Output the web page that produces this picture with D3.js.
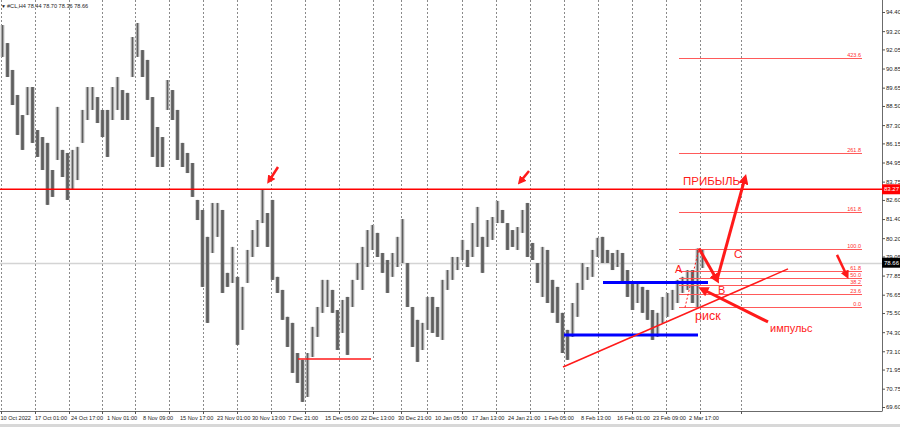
<!DOCTYPE html>
<html><head><meta charset="utf-8">
<script src="https://cdn.jsdelivr.net/npm/d3@7"></script>
<style>
html,body{margin:0;padding:0;background:#fff;}
svg{display:block;font-family:"Liberation Sans",Arial,sans-serif;}
</style></head>
<body><svg id="c" width="900" height="427"></svg>
<script>
// ---- data (H4 crude oil, grouped columns) ----
const highs = [93.58,92.45,90.76,89.19,87.93,89.69,89.69,86.99,86.55,86.18,84.48,88.44,85.74,85.55,85.74,85.93,88.25,89.69,89.69,89.06,88.25,88.25,89.69,90.32,89.50,89.32,92.83,93.71,92.01,91.39,89.06,87.18,86.55,90.13,89.50,88.25,86.18,85.55,84.92,82.60,81.97,80.28,82.41,82.41,81.97,78.02,79.65,77.77,77.14,79.46,80.71,81.34,83.23,81.78,82.60,77.77,76.95,75.26,74.88,72.99,72.56,72.99,74.63,75.88,77.58,77.58,76.95,75.69,76.32,76.51,77.58,78.64,79.65,80.71,81.03,80.53,79.27,78.83,79.27,80.28,81.40,78.64,75.88,75.07,74.88,76.51,76.51,75.88,77.58,78.20,79.02,79.02,80.09,79.46,81.15,82.16,80.28,81.34,81.53,82.54,81.97,81.15,80.71,80.90,81.97,82.41,79.90,78.64,79.65,79.46,77.58,77.14,75.51,74.44,76.13,77.39,78.64,78.39,79.46,80.22,80.28,79.46,79.27,79.46,79.27,78.20,77.39,77.39,77.14,76.95,75.69,75.51,76.51,76.76,76.95,77.58,77.77,78.20,78.20,79.55,79.46];
const lows  = [91.58,90.32,88.56,86.68,85.74,87.93,86.18,85.30,84.48,82.29,82.79,85.11,84.04,82.60,83.23,83.85,86.18,87.62,88.25,87.43,86.55,85.30,87.62,88.25,87.62,87.62,90.32,91.58,90.32,88.88,85.30,84.67,84.67,88.25,87.62,85.11,84.67,84.29,82.79,81.34,77.14,74.88,79.27,80.28,76.76,77.14,77.39,73.50,74.44,77.39,79.02,79.65,81.15,79.65,77.58,76.76,75.07,73.37,71.74,71.11,69.92,70.23,72.74,74.00,75.51,75.88,75.51,73.18,74.25,72.87,75.88,77.58,76.95,78.39,79.46,79.02,78.02,76.76,77.77,78.39,78.64,75.88,73.37,72.43,73.18,74.44,74.25,74.00,73.81,76.95,77.58,78.20,78.83,78.39,79.02,79.65,78.02,79.65,80.09,81.15,81.15,79.46,79.65,79.46,80.53,79.02,78.83,77.39,76.51,76.13,75.51,74.88,72.99,72.56,74.00,75.26,76.95,77.58,77.77,79.02,78.64,78.64,78.20,78.39,77.39,76.51,75.69,76.13,75.51,75.07,73.81,74.00,74.88,75.26,75.69,76.13,76.76,76.95,76.13,75.85,78.33];
const yTicks = [94.40,93.20,92.05,90.85,89.65,88.50,87.30,86.15,84.95,83.75,82.60,81.40,80.20,79.05,77.85,76.65,75.50,74.30,73.10,71.95,70.75,69.60];
const xLabels = ["10 Oct 2022","17 Oct 01:00","24 Oct 17:00","1 Nov 01:00","8 Nov 09:00","15 Nov 17:00","23 Nov 01:00","30 Nov 13:00","7 Dec 21:00","15 Dec 05:00","22 Dec 13:00","30 Dec 21:00","10 Jan 05:00","17 Jan 13:00","24 Jan 21:00","1 Feb 05:00","8 Feb 13:00","16 Feb 01:00","23 Feb 09:00","2 Mar 17:00"];
const xLabelAt = [-0.4,6.5,13.7,20.9,28.1,35.5,42.9,49.9,57.1,64.5,71.7,79.1,86.5,93.9,101.1,108.3,115.7,122.9,130.1,137.3];
const gridAt = [-0.36,6.5,13.3,19.9,26.5,33.3,40.1,46.9,53.7,60.5,67.3,74.1,79.7,84.9,91.9,98.7,105.5,112.3,119.1,125.9,132.7,139.5,147.7];
const header = "#CL,H4  78.44 78.70 78.36 78.66";
const lastPrice = 78.66;
const resistance = 83.27;
const fibLevels = [0,23.6,38.2,50,61.8,100,161.8,261.8,423.6];
const fibFrom = 75.85, fibTo = 79.55, fibStart = 135.3, fibEnd = 171.9;
const blueLines = [{x1:120.1,x2:141.1,p:77.41},{x1:112.3,x2:139.1,p:74.12}];
const redSegs = [{x1:59.1,p1:72.62,x2:73.7,p2:72.62,w:1.5},{x1:112.1,p1:72.11,x2:157.1,p2:78.27,w:1.5}];
const arrows = [
  {x1:139.3,p1:79.55,x2:142.9,p2:77.58,w:3},
  {x1:142.9,p1:77.58,x2:148.5,p2:83.98,w:3},
  {x1:153.1,p1:74.94,x2:139.9,p2:77.01,w:3},
  {x1:55.1,p1:84.67,x2:53.3,p2:83.79,w:2.5},
  {x1:105.3,p1:84.42,x2:103.5,p2:83.73,w:2.5},
  {x1:166.9,p1:79.15,x2:168.9,p2:77.83,w:2.5}
];
const notes = [
  {t:"ПРИБЫЛЬ",x:136.1,p:83.54,s:11.5},
  {t:"A",x:134.5,p:78.02,s:11},
  {t:"B",x:143.1,p:76.70,s:11},
  {t:"C",x:146.3,p:78.96,s:11},
  {t:"риск",x:138.5,p:75.07,s:12.5},
  {t:"импульс",x:153.5,p:74.31,s:11}
];

// ---- layout ----
const svg = d3.select("#c");
const R = 882, B = 411;
const x = d3.scaleLinear().domain([-0.5, 140.5]).range([0, 705]);
const y = d3.scaleLinear().domain([69.60, 94.40]).range([407, 12]);
const red = "#ff1a1a";

// grid
svg.append("g").selectAll("line").data(gridAt).join("line")
  .attr("x1", d => Math.round(x(d)) + 0.5).attr("x2", d => Math.round(x(d)) + 0.5)
  .attr("y1", 0).attr("y2", B)
  .attr("stroke", "#8a8a8a").attr("stroke-width", 1).attr("stroke-dasharray", "2,2");

// current price line
svg.append("line").attr("x1", 0).attr("x2", R).attr("y1", Math.round(y(lastPrice)) + 0.5).attr("y2", Math.round(y(lastPrice)) + 0.5)
  .attr("stroke", "#d4d4d4").attr("stroke-width", 1.5);

// candles
const bw = x(1) - x(0);
svg.append("g").selectAll("rect").data(highs).join("rect")
  .attr("x", (d, i) => x(i) - bw * 0.36)
  .attr("width", bw * 0.72)
  .attr("y", d => y(d))
  .attr("height", (d, i) => Math.max(1, y(lows[i]) - y(d)))
  .attr("fill", (d, i) => {
    const m = (d + lows[i]) / 2, pm = i ? (highs[i-1] + lows[i-1]) / 2 : m;
    return m >= pm ? "#a6a6a6" : "#6c6c6c";
  });
svg.append("g").selectAll("line").data(highs).join("line")
  .attr("x1", (d, i) => x(i)).attr("x2", (d, i) => x(i))
  .attr("y1", d => y(d)).attr("y2", (d, i) => y(lows[i]))
  .attr("stroke", "#5e5e5e").attr("stroke-width", 1);

// resistance line
svg.append("line").attr("x1", 0).attr("x2", R).attr("y1", y(resistance)).attr("y2", y(resistance))
  .attr("stroke", "#ff0000").attr("stroke-width", 1.5);

// fibo
const fp = l => fibFrom + (fibTo - fibFrom) * l / 100;
const fg = svg.append("g");
fg.selectAll("line").data(fibLevels).join("line")
  .attr("x1", x(fibStart)).attr("x2", x(fibEnd))
  .attr("y1", d => Math.round(y(fp(d))) + 0.5).attr("y2", d => Math.round(y(fp(d))) + 0.5)
  .attr("stroke", "#ff5a5a").attr("stroke-width", 1);
fg.selectAll("text").data(fibLevels).join("text")
  .attr("x", x(fibEnd) - 1).attr("y", d => Math.round(y(fp(d))) - 1)
  .attr("text-anchor", "end").attr("font-size", 5.5).attr("fill", "#ff3030")
  .text(d => d.toFixed(1));
svg.append("line").attr("x1", x(136.5)).attr("y1", y(fibFrom)).attr("x2", x(139.3)).attr("y2", y(fibTo))
  .attr("stroke", red).attr("stroke-width", 1).attr("stroke-dasharray", "2,2");

// blue lines
svg.append("g").selectAll("line").data(blueLines).join("line")
  .attr("x1", d => x(d.x1)).attr("x2", d => x(d.x2)).attr("y1", d => y(d.p)).attr("y2", d => y(d.p))
  .attr("stroke", "#0000ff").attr("stroke-width", 3);

// red segments
svg.append("g").selectAll("line").data(redSegs).join("line")
  .attr("x1", d => x(d.x1)).attr("x2", d => x(d.x2)).attr("y1", d => y(d.p1)).attr("y2", d => y(d.p2))
  .attr("stroke", red).attr("stroke-width", d => d.w);

// arrows
const defs = svg.append("defs");
defs.append("marker").attr("id", "ah").attr("viewBox", "0 0 10 10").attr("refX", 6).attr("refY", 5)
  .attr("markerWidth", 3.4).attr("markerHeight", 3.4).attr("orient", "auto")
  .append("path").attr("d", "M0,0 L10,5 L0,10 z").attr("fill", red);
svg.append("g").selectAll("line").data(arrows).join("line")
  .attr("x1", d => x(d.x1)).attr("x2", d => x(d.x2)).attr("y1", d => y(d.p1)).attr("y2", d => y(d.p2))
  .attr("stroke", red).attr("stroke-width", d => d.w).attr("marker-end", "url(#ah)");

// notes
svg.append("g").selectAll("text").data(notes).join("text")
  .attr("x", d => x(d.x)).attr("y", d => y(d.p)).attr("font-size", d => d.s).attr("fill", red)
  .text(d => d.t);

// right axis
svg.append("rect").attr("x", R).attr("y", 0).attr("width", 900 - R).attr("height", B).attr("fill", "#fff");
svg.append("line").attr("x1", R + 0.5).attr("x2", R + 0.5).attr("y1", 0).attr("y2", B).attr("stroke", "#6b6b6b");
const ya = svg.append("g").attr("transform", `translate(${R},0)`)
  .call(d3.axisRight(y).tickValues(yTicks).tickFormat(d3.format(".2f")).tickSize(3).tickPadding(1));
ya.select(".domain").remove();
ya.selectAll("line").attr("stroke", "#555");
ya.selectAll("text").attr("font-size", 6).attr("fill", "#222").attr("font-family", "Liberation Sans, Arial");

// price tags
function tag(p, bg) {
  const g = svg.append("g");
  g.append("rect").attr("x", R).attr("y", y(p) - 5).attr("width", 900 - R).attr("height", 10).attr("fill", bg);
  g.append("text").attr("x", R + 2).attr("y", y(p) + 2.2).attr("font-size", 6).attr("fill", "#fff").text(p.toFixed(2));
}
tag(resistance, "#ff0000");
tag(lastPrice, "#000");

// bottom axis
svg.append("line").attr("x1", 0).attr("x2", R + 0.5).attr("y1", B + 0.5).attr("y2", B + 0.5).attr("stroke", "#6b6b6b");
svg.append("g").selectAll("line").data(gridAt).join("line")
  .attr("x1", d => Math.round(x(d)) + 0.5).attr("x2", d => Math.round(x(d)) + 0.5)
  .attr("y1", B).attr("y2", B + 3).attr("stroke", "#555");
svg.append("g").selectAll("text").data(xLabels).join("text")
  .attr("x", (d, i) => x(xLabelAt[i])).attr("y", 420)
  .attr("font-size", 5.6).attr("fill", "#222").text(d => d);
svg.append("rect").attr("x", 0).attr("y", 424).attr("width", 900).attr("height", 3).attr("fill", "#d8d8d8");

// header
svg.append("text").attr("x", 1).attr("y", 7.5).attr("font-size", 5).attr("fill", "#222").text("▼");
svg.append("text").attr("x", 7).attr("y", 7.5).attr("font-size", 5.6).attr("fill", "#222").text(header);
</script></body></html>
